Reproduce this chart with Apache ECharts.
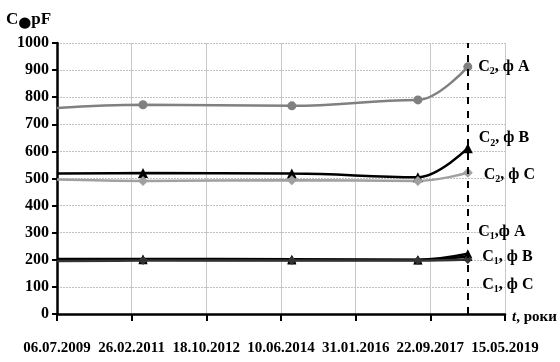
<!DOCTYPE html>
<html>
<head>
<meta charset="utf-8">
<script src="https://cdn.jsdelivr.net/npm/echarts@6/dist/echarts.min.js"></script>
<style>
html,body{margin:0;padding:0;background:#fff;}
#chart{width:560px;height:362px;}
</style>
</head>
<body>
<div id="chart"></div>
<script>
// Measurement dates (last one is marked with the dashed line)
const dates = ['2009-07-06', '2011-05-28', '2014-09-05', '2017-06-14', '2018-07-20'];
// Capacitance values, pF
const c2A = [760, 772, 768, 790, 912];
const c2B = [518, 520, 518, 505, 612];
const c2C = [496, 491, 494, 491, 521];
const c1A = [203, 203, 202, 200, 222];
const c1B = [200, 200, 199, 199, 212];
const c1C = [196, 197, 197, 197, 201];
// Axis tick labels
const xTickLabels = ['06.07.2009', '26.02.2011', '18.10.2012', '10.06.2014', '31.01.2016', '22.09.2017', '15.05.2019'];
const yTicks = [0, 1000, 100];
const xStep = 600; // days between tick labels

const FONT = '"Liberation Serif","Times New Roman",serif';
const startMs = Date.UTC(2009, 6, 6);
function dayOffset(s) {
  const p = s.split('-').map(Number);
  return Math.round((Date.UTC(p[0], p[1] - 1, p[2]) - startMs) / 86400000);
}
const xs = dates.map(dayOffset);
const lastX = xs[xs.length - 1];

const rich = {
  n: {fontFamily: FONT, fontWeight: 'bold', fontSize: 16, color: '#000', lineHeight: 20, verticalAlign: 'middle'},
  s: {fontFamily: FONT, fontWeight: 'bold', fontSize: 10, color: '#000', lineHeight: 20, verticalAlign: 'bottom'}
};

function mkSeries(name, vals, color, symbol, size, width, lbl, lblOffset, lblDist) {
  const data = vals.map((v, i) => {
    const item = {value: [xs[i], v]};
    if (i === 0) item.symbolSize = 0;
    if (i === vals.length - 1) {
      item.label = {
        show: true, position: 'right', distance: lblDist, offset: lblOffset,
        formatter: lbl, rich: rich
      };
    }
    return item;
  });
  return {
    name: name, type: 'line', smooth: 0.4, smoothMonotone: 'x', data: data,
    symbol: symbol, symbolSize: size, showAllSymbol: true,
    lineStyle: {color: color, width: width},
    itemStyle: {color: color},
    label: {show: false},
    emphasis: {disabled: true},
    z: 3
  };
}

const series = [
  mkSeries('C2A', c2A, '#808080', 'circle', 9, 2.5, '{n|C}{s|2}{n|, ф A}', [0, 0], 6),
  mkSeries('C2B', c2B, '#000000', 'triangle', 10, 2.5, '{n|C}{s|2}{n|, ф B}', [0, -10], 6),
  mkSeries('C2C', c2C, '#a0a0a0', 'diamond', 10, 2.5, '{n|C}{s|2}{n|, ф C}', [0, 2], 11),
  mkSeries('C1A', c1A, '#000000', 'triangle', 9, 2.5, '{n|C}{s|1}{n|,ф A}', [0, -22], 6),
  mkSeries('C1B', c1B, '#000000', 'triangle', 9, 2.5, '{n|C}{s|1}{n|, ф B}', [0, 0], 10),
  mkSeries('C1C', c1C, '#333333', 'diamond', 9, 2.5, '{n|C}{s|1}{n|, ф C}', [0, 25], 10)
];
series[0].markLine = {
  symbol: 'none', silent: true, animation: false,
  label: {show: false},
  lineStyle: {color: '#000', type: [7, 7], width: 2},
  data: [{xAxis: lastX}]
};

const chart = echarts.init(document.getElementById('chart'), null, {renderer: 'canvas'});
chart.setOption({
  animation: false,
  backgroundColor: '#fff',
  grid: {left: 57, right: 55, top: 43, bottom: 48, containLabel: false},
  xAxis: {
    type: 'value', min: 0, max: xStep * (xTickLabels.length - 1), interval: xStep,
    axisLine: {show: true, onZero: false, lineStyle: {color: '#000', width: 2.5}},
    axisTick: {show: true, inside: false, length: 7, lineStyle: {color: '#000', width: 2}},
    axisLabel: {
      margin: 27, color: '#000', fontFamily: FONT, fontWeight: 'bold', fontSize: 15,
      formatter: v => xTickLabels[Math.round(v / xStep)] || ''
    },
    splitLine: {show: true, lineStyle: {color: '#c8c8c8', width: 1, type: 'solid'}}
  },
  yAxis: {
    type: 'value', min: yTicks[0], max: yTicks[1], interval: yTicks[2],
    axisLine: {show: true, lineStyle: {color: '#000', width: 2.5}},
    axisTick: {show: true, inside: false, length: 5, lineStyle: {color: '#000', width: 2}},
    axisLabel: {margin: 8, color: '#000', fontFamily: FONT, fontWeight: 'bold', fontSize: 16,
      formatter: v => String(v)},
    splitLine: {show: true, lineStyle: {color: '#c0c0c0', width: 1, type: [2, 1]}}
  },
  graphic: [
    {
      type: 'text', left: 6, top: 11,
      style: {
        text: '{a|C}{b|●}{a|pF}',
        rich: {
          a: {fontFamily: FONT, fontWeight: 'bold', fontSize: 17, fill: '#000', lineHeight: 22},
          b: {fontFamily: 'DejaVu Sans', fontSize: 15, fill: '#000', lineHeight: 22, verticalAlign: 'bottom'}
        }
      }
    },
    {
      type: 'text', left: 512, top: 310,
      style: {
        text: '{i|t}{a|, роки}',
        rich: {
          i: {fontFamily: FONT, fontWeight: 'bold', fontStyle: 'italic', fontSize: 15, fill: '#000'},
          a: {fontFamily: FONT, fontWeight: 'bold', fontSize: 15, fill: '#000'}
        }
      }
    }
  ],
  series: series
});
</script>
</body>
</html>
